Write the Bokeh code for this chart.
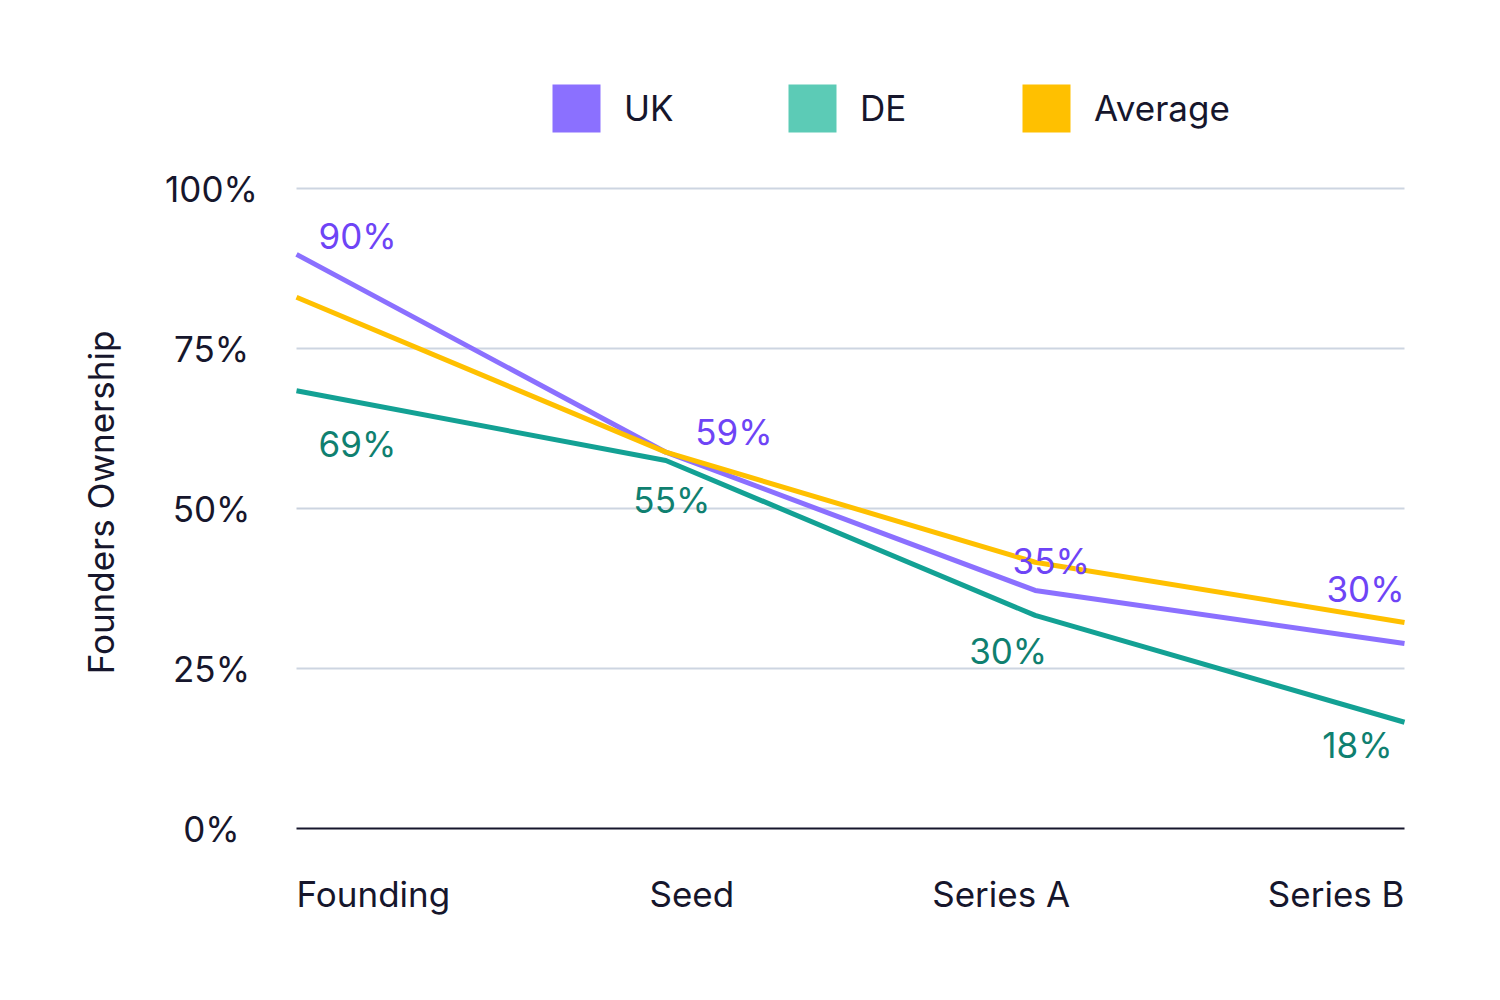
from bokeh.plotting import figure
from bokeh.models import ColumnDataSource, Range1d, Legend, LegendItem
from bokeh.core.properties import value
from bokeh.embed import file_html
from bokeh.resources import INLINE
import math

# ---- data ----
stages = ["Founding", "Seed", "Series A", "Series B"]
uk_values = [89.7, 58.8, 37.2, 28.9]
de_values = [68.4, 57.5, 33.3, 16.6]
avg_values = [83.0, 58.8, 41.6, 32.2]
uk_labels = ["90%", "59%", "35%", "30%"]
de_labels = ["69%", "55%", "30%", "18%"]
y_ticks = [0, 25, 50, 75, 100]
y_tick_labels = ["0%", "25%", "50%", "75%", "100%"]
series_names = ["UK", "DE", "Average"]
y_title = "Founders Ownership"

# ---- style / layout ----
FONT = "Inter"
INK = "#16162c"
UK_LINE = "#8b70ff"
UK_TEXT = "#6e44f6"
DE_LINE = "#13a194"
DE_TEXT = "#0f8070"
DE_SWATCH = "#5ccbb6"
AVG_LINE = "#ffc000"
GRID = "#cdd5e1"
FS = "35px"

W, H = 1480, 980
PLOT_L, PLOT_R, PLOT_T, PLOT_B = 296, 1404, 188, 828

xs = list(range(len(stages)))
x0, x1 = xs[0], xs[-1]
ymin, ymax = y_ticks[0], y_ticks[-1]
sx = (PLOT_R - PLOT_L) / (x1 - x0)
sy = (PLOT_B - PLOT_T) / (ymax - ymin)

p = figure(width=W, height=H, output_backend="svg", toolbar_location=None,
           x_range=Range1d(x0 - PLOT_L / sx, x1 + (W - PLOT_R) / sx),
           y_range=Range1d(ymin - (H - PLOT_B) / sy, ymax + PLOT_T / sy),
           min_border=0)
p.outline_line_color = None
p.axis.visible = False
p.grid.visible = False
p.background_fill_color = "white"
p.border_fill_color = "white"

# horizontal grid lines and baseline
grid_src = ColumnDataSource(dict(y=y_ticks[1:], x0=[x0] * 4, x1=[x1] * 4))
p.segment(x0="x0", x1="x1", y0="y", y1="y", source=grid_src, line_color=GRID, line_width=2)
p.segment(x0=[x0], x1=[x1], y0=[ymin], y1=[ymin], line_color=INK, line_width=2)

src = ColumnDataSource(dict(x=xs, uk=uk_values, de=de_values, avg=avg_values))
p.line("x", "de", source=src, line_color=DE_LINE, line_width=5)
p.line("x", "uk", source=src, line_color=UK_LINE, line_width=5)
p.line("x", "avg", source=src, line_color=AVG_LINE, line_width=5)

# legend swatches (area glyphs with no drawable data, shown only in the legends)
nan = float("nan")
proxy = ColumnDataSource(dict(x=[nan], y=[nan]))
swatches = [p.rect("x", "y", width=1, height=1, source=proxy, fill_color=c, line_color=None)
            for c in (UK_LINE, DE_SWATCH, AVG_LINE)]
legend_left = [546, 782, 1016]
legend_bottom = 138
for name, rend, lx in zip(series_names, swatches, legend_left):
    lg = Legend(items=[LegendItem(label=name, renderers=[rend])],
                location=(lx, H - legend_bottom), orientation="horizontal",
                glyph_width=60, glyph_height=60, label_standoff=18,
                padding=0, margin=0, spacing=0,
                border_line_color=None, background_fill_alpha=0,
                label_text_font=FONT, label_text_font_size=FS,
                label_text_color=INK, label_text_baseline="middle")
    p.add_layout(lg, "center")

# data labels (screen offsets: +x right, +y down)
uk_src = ColumnDataSource(dict(x=xs, y=uk_values, t=uk_labels,
                               dx=[61, 68, 16, -39], dy=[-18, -20, -29, -55]))
de_src = ColumnDataSource(dict(x=xs, y=de_values, t=de_labels,
                               dx=[61, 6, -27, -47], dy=[53, 39, 36, 23]))
for s, col in [(uk_src, UK_TEXT), (de_src, DE_TEXT)]:
    p.text(x="x", y="y", text="t", source=s, x_offset="dx", y_offset="dy",
           text_align="center", text_baseline="middle",
           text_font=value(FONT), text_font_size=value(FS), text_color=col)

# x category labels (space-between layout as in the reference)
xl_src = ColumnDataSource(dict(x=xs, y=[ymin] * len(xs), t=stages,
                               align=["left", "center", "center", "right"],
                               dx=[0, 26, -34, 0]))
p.text(x="x", y="y", text="t", source=xl_src, x_offset="dx", y_offset=65,
       text_align="align", text_baseline="middle",
       text_font=value(FONT), text_font_size=value(FS), text_color=INK)

# y tick labels, centred in a column left of the plot
yl_src = ColumnDataSource(dict(x=[x0] * len(y_ticks), y=y_ticks, t=y_tick_labels))
p.text(x="x", y="y", text="t", source=yl_src, x_offset=-85,
       text_align="center", text_baseline="middle",
       text_font=value(FONT), text_font_size=value(FS), text_color=INK)

# y axis title
p.text(x=[x0], y=[(ymin + ymax) / 2], text=[y_title], x_offset=-196, y_offset=-6,
       angle=math.pi / 2, text_align="center", text_baseline="middle",
       text_font=value(FONT), text_font_size=value(FS), text_color=INK)

open("out.html", "w").write(file_html(p, INLINE))
